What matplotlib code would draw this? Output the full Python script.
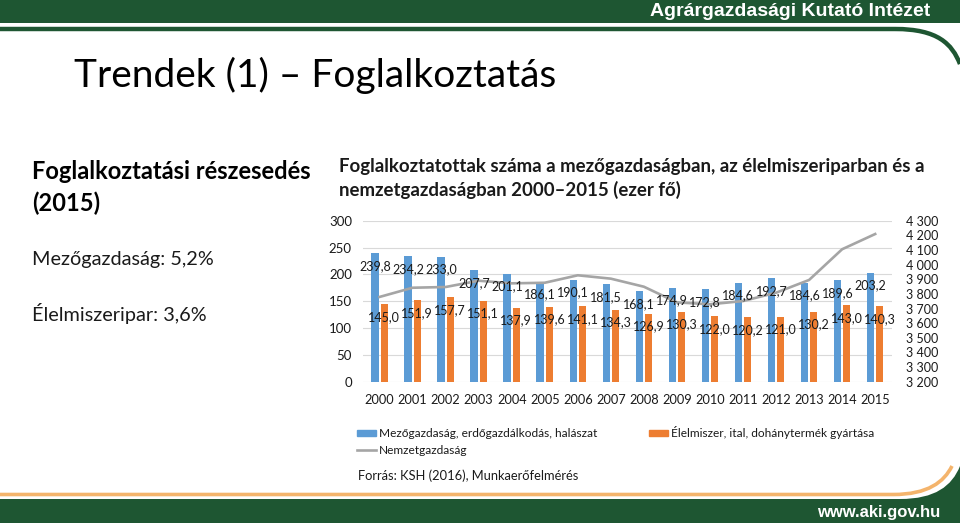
import matplotlib
matplotlib.use("Agg")
import matplotlib.pyplot as plt
import numpy as np
from matplotlib.patches import Rectangle, PathPatch, Patch
from matplotlib.path import Path
from matplotlib.lines import Line2D
from matplotlib.ticker import FuncFormatter

plt.rcParams['font.family'] = ['Lato', 'DejaVu Sans']

years = [str(y) for y in range(2000, 2016)]
mezo = [239.8, 234.2, 233.0, 207.7, 201.1, 186.1, 190.1, 181.5,
        168.1, 174.9, 172.8, 184.6, 192.7, 184.6, 189.6, 203.2]
elelm = [145.0, 151.9, 157.7, 151.1, 137.9, 139.6, 141.1, 134.3,
         126.9, 130.3, 122.0, 120.2, 121.0, 130.2, 143.0, 140.3]
# nemzetgazdasag
nemzet = [3779, 3842, 3847, 3890, 3872, 3876, 3927, 3904,
          3849, 3742, 3729, 3751, 3808, 3895, 4105, 4209]
left_ticks = [0, 50, 100, 150, 200, 250, 300]
right_ticks = list(range(3200, 4301, 100))
series_names = ['Mezőgazdaság, erdőgazdálkodás, halászat',
                'Élelmiszer, ital, dohánytermék gyártása',
                'Nemzetgazdaság']

blue = '#5B9BD5'
orange = '#ED7D31'
gray = '#A5A5A5'
green = '#1E5632'
txt = '#1a1a1a'
W, H = 960, 523

fig = plt.figure(figsize=(W / 100, H / 100), dpi=100)

# slide background drawn in pixel coords
bg = fig.add_axes([0, 0, 1, 1], zorder=0)
bg.set_xlim(0, W)
bg.set_ylim(H, 0)
bg.axis('off')

bg.add_patch(Rectangle((0, 0), W, 23, color=green, lw=0))
hp = Path([(0, 29), (895, 29), (938, 29), (952, 44), (960, 64)],
          [Path.MOVETO, Path.LINETO, Path.CURVE4, Path.CURVE4, Path.CURVE4])
bg.add_patch(PathPatch(hp, fill=False, ec=green, lw=3.2))
bg.text(930, 11.5, 'Agrárgazdasági Kutató Intézet', color='white', fontsize=14,
        fontweight='bold', family='Liberation Sans', ha='right', va='center')

fp = Path([(0, 499), (900, 499), (935, 499), (952, 486), (960, 466),
           (960, H), (0, H), (0, 499)],
          [Path.MOVETO, Path.LINETO, Path.CURVE4, Path.CURVE4, Path.CURVE4,
           Path.LINETO, Path.LINETO, Path.CLOSEPOLY])
bg.add_patch(PathPatch(fp, fc=green, ec='none'))
op = Path([(0, 494.5), (893, 494.5), (928, 494.5), (944, 482), (952, 466)],
          [Path.MOVETO, Path.LINETO, Path.CURVE4, Path.CURVE4, Path.CURVE4])
bg.add_patch(PathPatch(op, fill=False, ec='#F4B46C', lw=2.6))
bg.text(940, 512, 'www.aki.gov.hu', color='white', fontsize=12,
        fontweight='bold', family='Liberation Sans', ha='right', va='center')

bg.text(74, 87, 'Trendek (1) – Foglalkoztatás', fontsize=28, va='baseline',
        color='black')
bg.text(32, 179, 'Foglalkoztatási részesedés', fontsize=17, fontweight='bold',
        va='baseline', color='black')
bg.text(32, 211, '(2015)', fontsize=17, fontweight='bold', va='baseline',
        color='black')
bg.text(32, 265, 'Mezőgazdaság: 5,2%', fontsize=14.3, va='baseline', color=txt)
bg.text(32, 321, 'Élelmiszeripar: 3,6%', fontsize=14.3, va='baseline', color=txt)

bg.text(339, 172, 'Foglalkoztatottak száma a mezőgazdaságban, az élelmiszeriparban és a',
        fontsize=13.4, fontweight='bold', va='baseline', color=txt)
bg.text(339, 196, 'nemzetgazdaságban 2000–2015 (ezer fő)',
        fontsize=13.4, fontweight='bold', va='baseline', color=txt)
bg.text(358, 476, 'Forrás: KSH (2016), Munkaerőfelmérés', fontsize=9.3,
        va='center', color=txt)

# chart
x = np.arange(len(years))
ax = fig.add_axes([363 / W, 1 - 381.7 / H, 528.7 / W, 161 / H], zorder=2)
ax.set_facecolor('none')
bw = 0.22
ax.bar(x - 0.14, mezo, bw, color=blue, zorder=2)
ax.bar(x + 0.14, elelm, bw, color=orange, zorder=2)
ax.set_xlim(-0.5, 15.5)
ax.set_ylim(0, 300)
ax.set_yticks(left_ticks)
ax.set_xticks(x, years)
ax.grid(axis='y', color='#D9D9D9', lw=0.8, zorder=0)
ax.set_axisbelow(True)
for s in ax.spines.values():
    s.set_visible(False)
ax.tick_params(length=0, labelcolor=txt)
ax.tick_params(axis='y', pad=8, labelsize=9.5)
ax.tick_params(axis='x', pad=9, labelsize=9.2)

ax2 = ax.twinx()
ax2.plot(x, nemzet, color=gray, lw=1.9, zorder=3)
ax2.set_ylim(3200, 4300)
ax2.set_yticks(right_ticks)
ax2.yaxis.set_major_formatter(FuncFormatter(lambda v, p: f'{int(v):,}'.replace(',', ' ')))
for s in ax2.spines.values():
    s.set_visible(False)
ax2.tick_params(length=0, labelsize=9, labelcolor=txt, pad=10)

# data labels on top of everything
for xs, vals in ((x - 0.14, mezo), (x + 0.14, elelm)):
    for xi, v in zip(xs, vals):
        ax2.annotate(f'{v:.1f}'.replace('.', ','), xy=(xi, v), xycoords=ax.transData,
                     xytext=(0, -9.2), textcoords='offset points',
                     ha='center', va='center', fontsize=9, color=txt, zorder=5)

handles = [Patch(color=blue), Line2D([], [], color=gray, lw=1.9), Patch(color=orange)]
labels = [series_names[0], series_names[2], series_names[1]]
fig.legend(handles, labels, loc='upper left', bbox_to_anchor=(357 / W, 1 - 426 / H),
           ncol=2, frameon=False, fontsize=8.6, handlelength=1.6, handleheight=0.45,
           handletextpad=0.25, columnspacing=4.3, labelspacing=0.5,
           borderpad=0, borderaxespad=0, labelcolor=txt)

fig.savefig('out.png', dpi=100)
